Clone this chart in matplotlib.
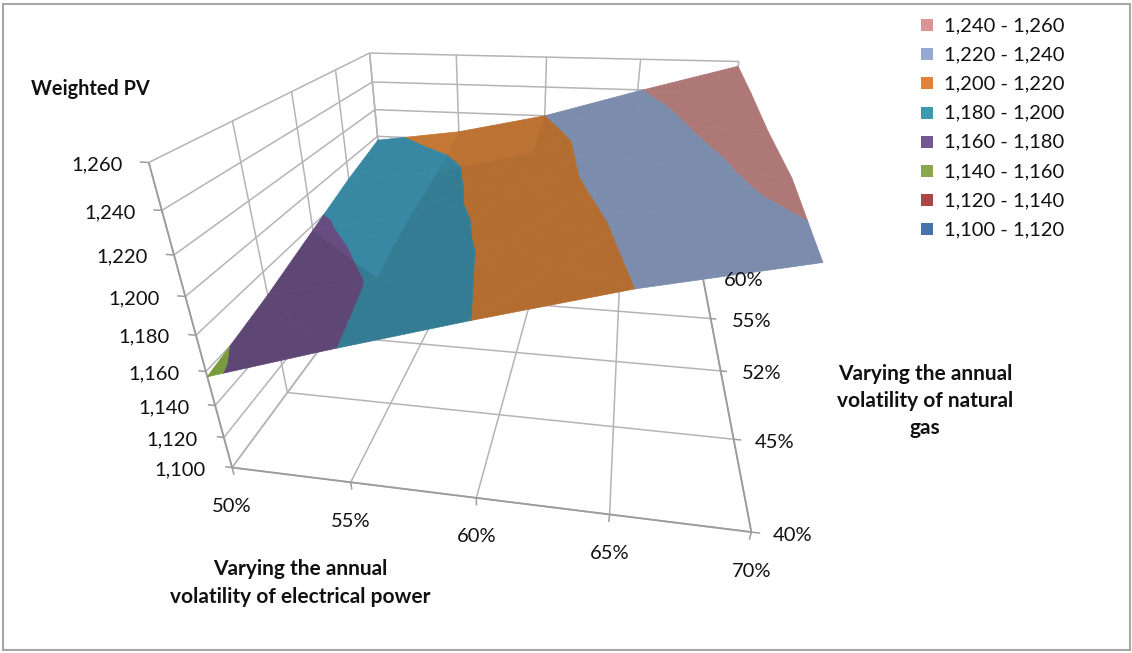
import numpy as np
import matplotlib
matplotlib.use('Agg')
import matplotlib.pyplot as plt
from matplotlib.patches import Rectangle

power_vol = ['50%', '55%', '60%', '65%', '70%']
gas_vol = ['40%', '45%', '52%', '55%', '60%']
pv_ticks = [1100, 1120, 1140, 1160, 1180, 1200, 1220, 1240, 1260]

# rows follow gas_vol, columns follow power_vol
weighted_pv = np.array([
    [1157, 1179, 1200, 1220, 1236],
    [1166, 1182, 1204, 1224, 1245],
    [1177, 1191, 1209, 1230, 1248],
    [1188, 1196, 1212, 1233, 1253],
    [1197, 1206, 1220, 1239, 1257],
], dtype=float)

band_labels = ['1,240 - 1,260', '1,220 - 1,240', '1,200 - 1,220', '1,180 - 1,200',
               '1,160 - 1,180', '1,140 - 1,160', '1,120 - 1,140', '1,100 - 1,120']
legend_colors = ['#D99694', '#95A9D3', '#E0823C', '#3F9AB0', '#725792', '#8AA64E', '#AA4643', '#4572A7']
surface_colors = ['#AE7876', '#7C8CAC', '#B36D30', '#337C94', '#5E4675', '#7A9A3E', '#8E3A38', '#3A5F8C']

# lighting of each surface cell, same row and column order as weighted_pv
cell_light = [
    [1.00, 1.00, 1.00, 1.00],
    [1.00, 1.00, 1.00, 1.00],
    [1.10, 1.00, 1.00, 1.00],
    [1.10, 1.05, 1.00, 1.00],
]

# where points of the plot box land on the canvas, used to fit the camera
box_norm = [(0, 0, 0), (1, 0, 0), (0, 1, 0), (1, 1, 0), (0, 0, 1), (1, 0, 1), (0, 1, 1), (1, 1, 1),
            (0, 0, .25), (0, 0, .5), (0, 0, .75),
            (.25, 0, 0), (.5, 0, 0), (.75, 0, 0),
            (1, .25, 0), (1, .5, 0), (1, .75, 0),
            (.25, 1, 1), (.5, 1, 1), (.75, 1, 1),
            (0, .25, 1), (0, .5, 1), (0, .75, 1)]
box_px = [(230, 465), (752, 533), (391, 262), (704, 275), (150, 163), (843, 207), (368, 52), (738, 62),
          (213, 402), (196, 332), (176, 255),
          (350, 483), (476, 499), (610, 516),
          (733, 439), (720, 369), (710, 316),
          (456, 53), (546, 57), (640, 60),
          (233, 122), (292, 92), (336, 68)]


def fit_camera(norm, px):
    rows = []
    for (X, Y, Z), (u, v) in zip(norm, px):
        rows.append([X, Y, Z, 1, 0, 0, 0, 0, -u * X, -u * Y, -u * Z, -u])
        rows.append([0, 0, 0, 0, X, Y, Z, 1, -v * X, -v * Y, -v * Z, -v])
    return np.linalg.svd(np.array(rows, dtype=float))[2][-1].reshape(3, 4)


camera = fit_camera(box_norm, box_px)
nx = len(power_vol) - 1
ny = len(gas_vol) - 1


def project(i, j, z):
    # i, j are category positions, z a value on the PV scale
    h = camera @ np.array([i / nx, j / ny, (z - pv_ticks[0]) / (pv_ticks[-1] - pv_ticks[0]), 1.0])
    return h[0] / h[2], h[1] / h[2]


def line3d(ax, a, b, color='#B4B4B4', lw=1.1, zorder=1):
    pa, pb = project(*a), project(*b)
    ax.plot([pa[0], pb[0]], [pa[1], pb[1]], color=color, lw=lw, zorder=zorder, solid_capstyle='butt')


def clip(poly, level, keep_above):
    out = []
    for k in range(len(poly)):
        p, q = poly[k], poly[(k + 1) % len(poly)]
        p_in = p[2] >= level if keep_above else p[2] <= level
        q_in = q[2] >= level if keep_above else q[2] <= level
        if p_in:
            out.append(p)
        if p_in != q_in:
            t = (level - p[2]) / (q[2] - p[2])
            out.append(tuple(p[m] + t * (q[m] - p[m]) for m in range(3)))
    return out


def shade(color, f):
    return np.clip(np.array(matplotlib.colors.to_rgb(color)) * f, 0, 1)


def draw_surface(ax):
    for j in range(ny - 1, -1, -1):
        for i in range(nx):
            c00 = (i, j, weighted_pv[j][i])
            c10 = (i + 1, j, weighted_pv[j][i + 1])
            c11 = (i + 1, j + 1, weighted_pv[j + 1][i + 1])
            c01 = (i, j + 1, weighted_pv[j + 1][i])
            # split each cell around its middle so the band edges stay close to bilinear
            mid = (i + 0.5, j + 0.5, (c00[2] + c10[2] + c11[2] + c01[2]) / 4)
            ring = [c00, c10, c11, c01]
            for k in range(4):
                tri = [ring[k], ring[(k + 1) % 4], mid]
                light = cell_light[j][i]
                # this cell folds along its diagonal, the far half catches the light
                if (j, i) == (1, 0) and k in (1, 2):
                    light = 1.10
                for b in range(len(surface_colors)):
                    low = pv_ticks[-2 - b]
                    poly = clip(clip(tri, low, True), pv_ticks[-1 - b], False)
                    if len(poly) < 3:
                        continue
                    c = shade(surface_colors[b], light)
                    pts = [project(*p) for p in poly]
                    ax.fill([p[0] for p in pts], [p[1] for p in pts], facecolor=c,
                            edgecolor=c, lw=0.5, zorder=3)


plt.rcParams['font.family'] = ['Lato', 'DejaVu Sans']
fig = plt.figure(figsize=(11.32, 6.53), dpi=100)
ax = fig.add_axes([0, 0, 1, 1])
ax.set_xlim(0, 1132)
ax.set_ylim(653, 0)
ax.axis('off')

ax.add_patch(Rectangle((3, 4), 1127, 646, fill=False, edgecolor='#A6A6A6', lw=1.5))

# walls and floor
z0, z1 = pv_ticks[0], pv_ticks[-1]
for z in pv_ticks:
    line3d(ax, (0, 0, z), (0, ny, z))
    line3d(ax, (0, ny, z), (nx, ny, z))
for j in range(ny + 1):
    line3d(ax, (0, j, z0), (0, j, z1))
    line3d(ax, (0, j, z0), (nx, j, z0))
for i in range(nx + 1):
    line3d(ax, (i, ny, z0), (i, ny, z1))
    line3d(ax, (i, 0, z0), (i, ny, z0))

# axis lines and tick marks
axis_color = '#9C9C9C'
line3d(ax, (0, 0, z0), (0, 0, z1), axis_color, 1.3, 2)
line3d(ax, (0, 0, z0), (nx, 0, z0), axis_color, 1.3, 2)
line3d(ax, (nx, 0, z0), (nx, ny, z0), axis_color, 1.3, 2)
label_kw = dict(textcoords='offset pixels', va='center', fontsize=14.5, color='#111111')
for z in pv_ticks:
    line3d(ax, (0, 0, z), (-0.06, 0, z), axis_color, 1.1, 2)
    ax.annotate('{:,}'.format(z), project(0, 0, z), xytext=(-26, -2), ha='right', **label_kw)
for i, lab in enumerate(power_vol):
    line3d(ax, (i, 0, z0), (i, 0, z0 - 5), axis_color, 1.1, 2)
    ax.annotate(lab, project(i, 0, z0), xytext=(0, -39), ha='center', **label_kw)
for j, lab in enumerate(gas_vol):
    line3d(ax, (nx, j, z0), (nx + 0.06, j, z0), axis_color, 1.1, 2)
    ax.annotate(lab, project(nx, j, z0), xytext=(41, -3), ha='center', zorder=5, **label_kw)

draw_surface(ax)

title_kw = dict(ha='center', va='center', fontweight='bold', color='#111111', linespacing=1.45)
ax.text(90, 89, 'Weighted PV', fontsize=14.3, **title_kw)
ax.text(300, 583, 'Varying the annual\nvolatility of electrical power', fontsize=15, **title_kw)
ax.text(925, 401, 'Varying the annual\nvolatility of natural\ngas', fontsize=15, **title_kw)

# legend
for k, (lab, col) in enumerate(zip(band_labels, legend_colors)):
    y = 25 + k * 29.2
    ax.add_patch(Rectangle((921, y - 6), 12, 12, facecolor=col, edgecolor='none'))
    ax.text(944, y + 0.5, lab, ha='left', va='center', fontsize=14.5, color='#111111')

fig.savefig('out.png', dpi=100)
